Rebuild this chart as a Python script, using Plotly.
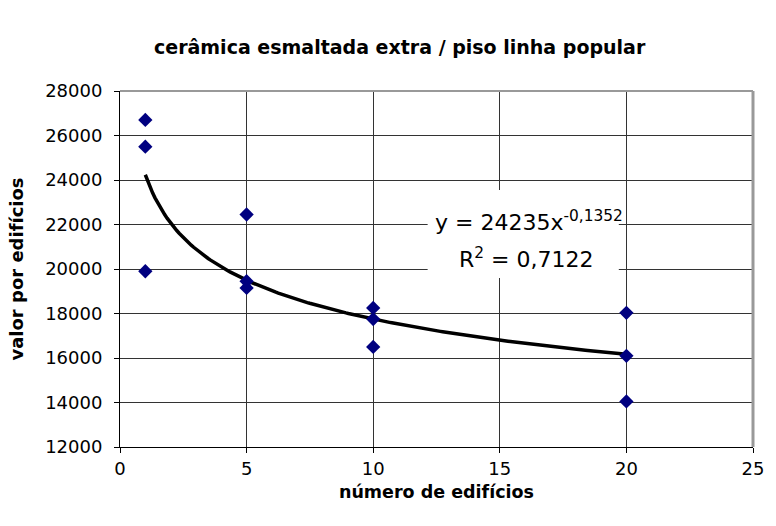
import plotly.graph_objects as go
import numpy as np

x_vals = [1, 1, 1, 5, 5, 5, 10, 10, 10, 20, 20, 20]
y_vals = [26700, 25500, 19900, 22450, 19450, 19150, 18250, 17750, 16500, 18030, 16100, 14050]
coef_a = 24235
coef_b = -0.1352
y_ticks = list(range(12000, 28001, 2000))
x_ticks = [0, 5, 10, 15, 20, 25]

xt = np.linspace(1, 20, 200)
yt = coef_a * xt ** coef_b

FONT = "DejaVu Sans"

fig = go.Figure()
fig.add_trace(go.Scatter(x=xt, y=yt, mode="lines", line=dict(color="black", width=3.5), hoverinfo="skip"))
fig.add_trace(go.Scatter(x=x_vals, y=y_vals, mode="markers",
                         marker=dict(symbol="diamond", size=11, color="#000080", line=dict(width=0))))

# white label box of the trendline equation
fig.add_shape(type="rect", xref="x", yref="y", x0=12.15, x1=19.7, y0=19600, y1=23550,
              fillcolor="white", line=dict(width=0), layer="above")
fig.add_annotation(
    x=16.15, y=22150, xref="x", yref="y", showarrow=False,
    text="y = 24235x<sup>-0,1352</sup>",
    font=dict(family=FONT, size=22, color="black"), align="center",
)
fig.add_annotation(
    x=16.05, y=20480, xref="x", yref="y", showarrow=False,
    text="R<sup>2</sup> = 0,7122",
    font=dict(family=FONT, size=22, color="black"), align="center",
)

fig.update_layout(
    width=776, height=526,
    margin=dict(l=120, r=12, t=91, b=79),
    paper_bgcolor="white", plot_bgcolor="white",
    showlegend=False,
    font=dict(family=FONT, size=18, color="black"),
    title=dict(text="<b>cerâmica esmaltada extra / piso linha popular</b>",
               x=0.515, xanchor="center", y=0.91, yanchor="middle",
               font=dict(size=19)),
    xaxis=dict(range=[0, 25], tickvals=x_ticks, ticktext=[str(v) for v in x_ticks],
               showgrid=True, gridcolor="#333333", gridwidth=1,
               zeroline=False, showline=True, linecolor="black", linewidth=1,
               ticks="outside", ticklen=5, tickcolor="black",
               tickfont=dict(size=18),
               title=dict(text="<b>número de edifícios</b>", standoff=8, font=dict(size=17.5))),
    yaxis=dict(range=[12000, 28000], tickvals=y_ticks, ticktext=[str(v) for v in y_ticks],
               showgrid=True, gridcolor="#333333", gridwidth=1,
               zeroline=False, showline=True, linecolor="black", linewidth=1,
               ticks="outside", ticklen=5, tickcolor="black",
               ticklabelstandoff=8,
               tickfont=dict(size=18),
               title=dict(text="<b>valor por edifícios</b>", standoff=16, font=dict(size=18))),
)
fig.add_shape(type="line", xref="paper", yref="paper", x0=0, x1=1, y0=1, y1=1,
              line=dict(color="#999999", width=2))
fig.add_shape(type="line", xref="paper", yref="paper", x0=1, x1=1, y0=0, y1=1,
              line=dict(color="#999999", width=3))

fig.write_html("out.html")
